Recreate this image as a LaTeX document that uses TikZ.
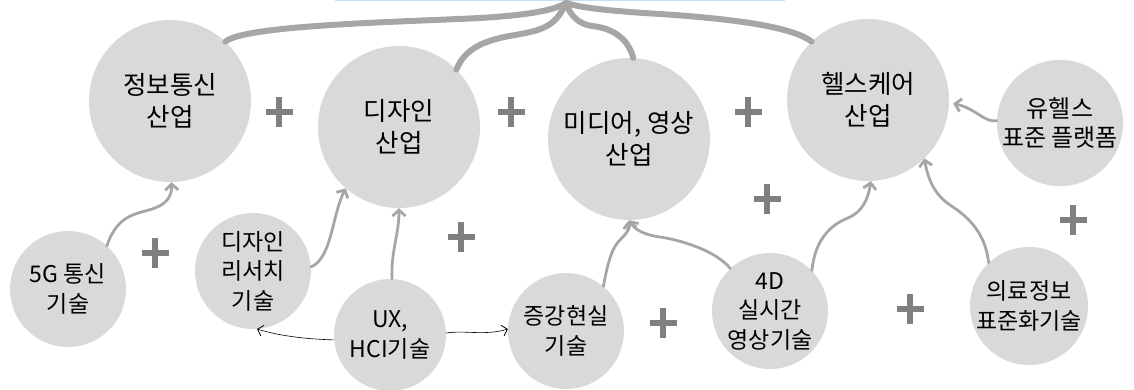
\documentclass[tikz,border=0pt]{standalone}
\usepackage{fontspec}
\setmainfont{Noto Sans CJK KR}
\usetikzlibrary{arrows.meta}
\definecolor{cfill}{RGB}{217,217,217}
\definecolor{carrow}{RGB}{166,166,166}
\definecolor{cplus}{RGB}{128,128,128}
\definecolor{cblue}{RGB}{200,222,240}
\tikzset{
  bubble/.style={circle,fill=cfill,inner sep=0pt,align=center,text=black},
  bigbubble/.style={bubble,minimum size=162pt,font=\fontsize{25.5}{32}\selectfont},
  midbubble/.style={bubble,minimum size=124pt,font=\fontsize{24}{29}\selectfont},
  smallbubble/.style={bubble,minimum size=116pt,font=\fontsize{23}{29.5}\selectfont},
  thickflow/.style={draw=carrow,line width=6pt,line cap=round},
  thinflow/.style={draw=carrow,line width=2.8pt,line cap=round,-{Straight Barb[length=6pt,width=13pt,line width=2.8pt]}},
  link/.style={draw=black,line width=0.6pt,-{Straight Barb[length=5pt,width=11pt,line width=0.8pt]}},
  plussign/.pic={\draw[cplus,line width=5.5pt] (-13.5,0)--(13.5,0) (0,-15)--(0,15);}
}
\begin{document}
\begin{tikzpicture}[x=1pt,y=-1pt]
\useasboundingbox (0,0) rectangle (1134,390);
% top frame edge
\draw[cblue,line width=1.2pt] (335,0.8) -- (785,0.8);
% top industries
\node[bigbubble] (jb) at (170,101) {정보통신\\산업};
\node[bigbubble] (ds) at (399,127) {디자인\\산업};
\node[bigbubble] (md) at (629,139) {미디어, 영상\\산업};
\node[bigbubble] (hc) at (868,100) {헬스케어\\산업};
\node[midbubble] (uh) at (1060,123) {유헬스\\표준 플랫폼};
% technologies
\node[smallbubble] (g5) at (68,289) {5G 통신\\기술};
\node[smallbubble] (dr) at (253,271) {디자인\\리서치\\기술};
\node[smallbubble,minimum size=112pt] (ux) at (390,335) {UX,\\HCI기술};
\node[smallbubble] (ar) at (566,331) {증강현실\\기술};
\node[smallbubble] (fd) at (770,311) {4D\\실시간\\영상기술};
\node[smallbubble,minimum size=118pt] (mi) at (1029,306) {의료정보\\표준화기술};
\coordinate (top) at (566,3);
% thick converging flows
\draw[thickflow] (jb.47) .. controls (245,25) and (400,22) .. (480,18) .. controls (530,15) and (555,10) .. (top);
\draw[thickflow] (ds.45) .. controls (465,48) and (485,40) .. (515,35) .. controls (545,30) and (556,25) .. (top);
\draw[thickflow] (md.87) .. controls (628,38) and (612,28) .. (592,26) .. controls (578,24) and (570,15) .. (top);
\draw[thickflow] (hc.134) .. controls (790,25) and (720,18) .. (660,14) .. controls (610,11) and (582,8) .. (top);
% thin flows
\draw[thinflow] (g5.48) .. controls (118,212) and (140,214) .. (155,208) .. controls (168,203) and (172,195) .. (jb.-89);
\draw[thinflow] (dr.4) .. controls (332,258) and (332,215) .. (ds.-131);
\draw[thinflow] (ux.88) .. controls (391,250) and (399,235) .. (ds.-90);
\draw[thinflow] (ar.50) .. controls (609,255) and (614,246) .. (620,240) .. controls (628,232) and (630,228) .. (md.-90);
\draw[thinflow] (fd.133) .. controls (715,250) and (680,240) .. (660,237) .. controls (645,235) and (635,230) .. (md.-90);
\draw[thinflow] (fd.44) .. controls (815,240) and (830,225) .. (848,218) .. controls (862,212) and (868,200) .. (hc.-88);
\draw[thinflow] (mi.133) .. controls (985,230) and (965,215) .. (950,205) .. controls (935,195) and (928,180) .. (hc.-46);
\draw[thinflow,shorten >=4pt] (uh.178) .. controls (985,123) and (975,108) .. (hc.-2);
% thin black links
\draw[link] (ux.185) .. controls (305,339) and (280,336) .. (dr.-86);
\draw[link] (ux.2) .. controls (465,330) and (485,336) .. (ar.178);
% plus signs
\pic at (279,112) {plussign};
\pic at (511,112) {plussign};
\pic at (748,112) {plussign};
\pic at (767,199) {plussign};
\pic at (155,253) {plussign};
\pic at (461,237) {plussign};
\pic at (663,323) {plussign};
\pic at (910,309) {plussign};
\pic at (1073,220) {plussign};
\end{tikzpicture}
\end{document}
